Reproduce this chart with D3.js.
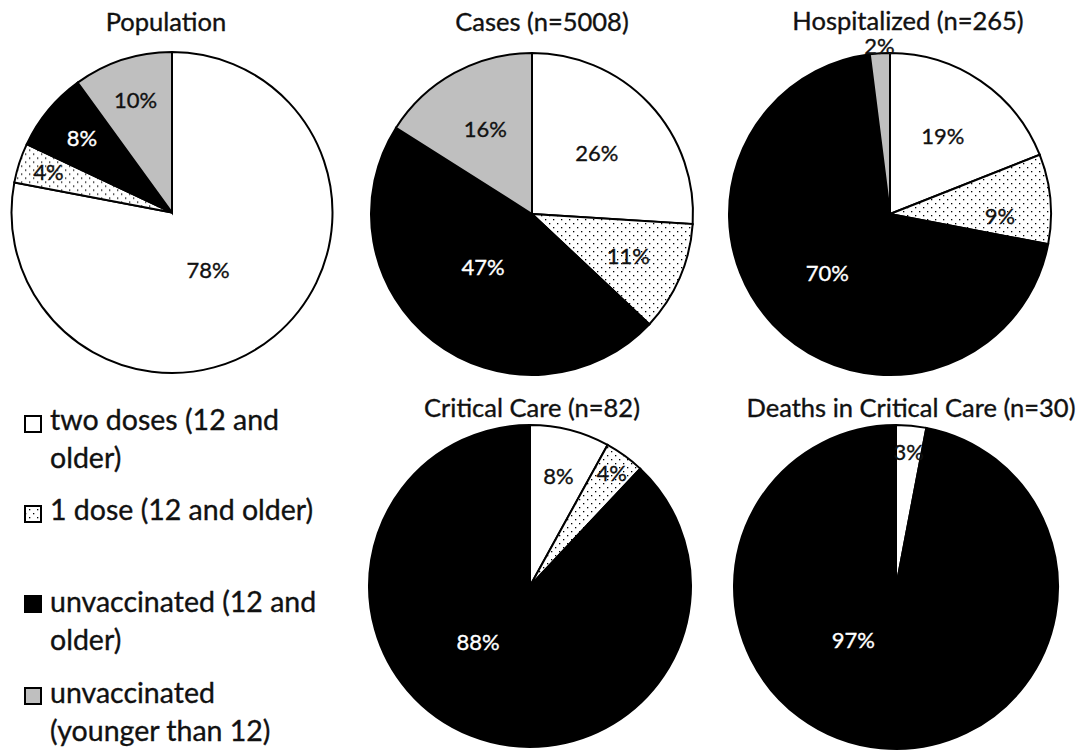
<!DOCTYPE html>
<html>
<head>
<meta charset="utf-8">
<script src="https://cdn.jsdelivr.net/npm/d3@7/dist/d3.min.js"></script>
<style>
  html, body { margin: 0; padding: 0; background: #fff; }
  svg { display: block; }
  text { font-family: Lato, "Open Sans", sans-serif; stroke-width: 0.35px; }
</style>
</head>
<body>
<svg id="chart" width="1084" height="751"></svg>
<script>
// ---------- data ----------
const categories = ["two doses (12 and older)", "1 dose (12 and older)", "unvaccinated (12 and older)", "unvaccinated (younger than 12)"];
const legendLines = [["two doses (12 and", "older)"], ["1 dose (12 and older)"], ["unvaccinated (12 and", "older)"], ["unvaccinated", "(younger than 12)"]];
const pieTitles = ["Population", "Cases (n=5008)", "Hospitalized (n=265)", "Critical Care (n=82)", "Deaths in Critical Care (n=30)"];
const twoDoses = [78, 26, 19, 8, 3];
const oneDose = [4, 11, 9, 4, 0];
const unvaccinated12Plus = [8, 47, 70, 88, 97];
const unvaccinatedUnder12 = [10, 16, 2, 0, 0];

// ---------- layout (positions / styles) ----------
const panels = [
  {cx: 172, cy: 212.5, r: 160.5, tx: 166, ty: 31},
  {cx: 532, cy: 214, r: 161, tx: 542, ty: 31},
  {cx: 890, cy: 214, r: 161, tx: 908, ty: 30},
  {cx: 530, cy: 586, r: 161, tx: 532, ty: 417},
  {cx: 896, cy: 587, r: 162, tx: 911, ty: 417}
];
// label distance from centre (px) per slice, and angle overrides (degrees from 12 o'clock)
const labelRadius = [[68, 130, 117, 118], [89, 105, 72, 97], [94, 110, 86, 168], [114, 139, 76, 0], [136, 0, 68, 0]];
const labelAngle = {"0-0": 148, "2-1": 91, "1-2": 222.8, "3-2": 223, "4-2": 219};

const fills = ["#ffffff", "url(#dots)", "#000000", "#bfbfbf"];
const labelColors = ["#111", "#111", "#fff", "#111"];

const svg = d3.select("#chart");
const defs = svg.append("defs");
const pat = defs.append("pattern").attr("id", "dots")
  .attr("patternUnits", "userSpaceOnUse").attr("width", 8).attr("height", 8);
pat.append("rect").attr("width", 8).attr("height", 8).attr("fill", "#fff");
pat.append("rect").attr("x", 1).attr("y", 1).attr("width", 1.3).attr("height", 1.3).attr("fill", "#000");
pat.append("rect").attr("x", 5).attr("y", 5).attr("width", 1.3).attr("height", 1.3).attr("fill", "#000");

const color = d3.scaleOrdinal().domain(categories).range(fills);
const textColor = d3.scaleOrdinal().domain(categories).range(labelColors);
const pie = d3.pie().sort(null).value(d => d.value).startAngle(0).endAngle(2 * Math.PI);

pieTitles.forEach((title, i) => {
  const p = panels[i];
  const values = [twoDoses[i], oneDose[i], unvaccinated12Plus[i], unvaccinatedUnder12[i]];
  const rows = categories.map((c, k) => ({cat: c, value: values[k], k}));
  const arcs = pie(rows);
  const arc = d3.arc().innerRadius(0).outerRadius(p.r);
  const g = svg.append("g").attr("transform", `translate(${p.cx},${p.cy})`);

  g.selectAll("path").data(arcs.filter(d => d.data.value > 0)).join("path")
    .attr("d", arc)
    .attr("fill", d => color(d.data.cat))
    .attr("stroke", "#000")
    .attr("stroke-width", 2)
    .attr("stroke-linejoin", "miter");

  g.selectAll("text.lbl").data(arcs.filter(d => d.data.value > 0)).join("text")
    .attr("class", "lbl")
    .each(function(d) {
      const key = i + "-" + d.data.k;
      const lr = labelRadius[i][d.data.k];
      const ang = labelAngle[key] !== undefined ? labelAngle[key] * Math.PI / 180 : (d.startAngle + d.endAngle) / 2;
      const c = d3.arc().innerRadius(lr).outerRadius(lr).centroid({startAngle: ang, endAngle: ang});
      const outside = lr > p.r;
      const col = outside ? "#111" : textColor(d.data.cat);
      d3.select(this)
        .attr("x", c[0]).attr("y", c[1])
        .attr("fill", col).attr("stroke", col);
    })
    .attr("text-anchor", "middle")
    .attr("dy", "0.36em")
    .attr("font-size", 22)
    .text(d => d.data.value + "%");

  svg.append("text")
    .attr("x", p.tx).attr("y", p.ty)
    .attr("text-anchor", "middle")
    .attr("font-size", 25.5)
    .attr("fill", "#111").attr("stroke", "#111")
    .text(title);
});

// ---------- legend ----------
const legendSquares = [415, 505, 595, 687];
const legendBaselines = [[430, 468], [520], [612, 650], [703, 741]];
const lg = svg.append("g");
categories.forEach((c, k) => {
  lg.append("rect")
    .attr("x", 25).attr("y", legendSquares[k] + 1)
    .attr("width", 16).attr("height", 16)
    .attr("fill", color(c))
    .attr("stroke", "#000").attr("stroke-width", 2);
  legendLines[k].forEach((line, j) => {
    lg.append("text")
      .attr("x", 50).attr("y", legendBaselines[k][j])
      .attr("font-size", 28.5)
      .attr("fill", "#111").attr("stroke", "#111")
      .text(line);
  });
});
</script>
</body>
</html>
